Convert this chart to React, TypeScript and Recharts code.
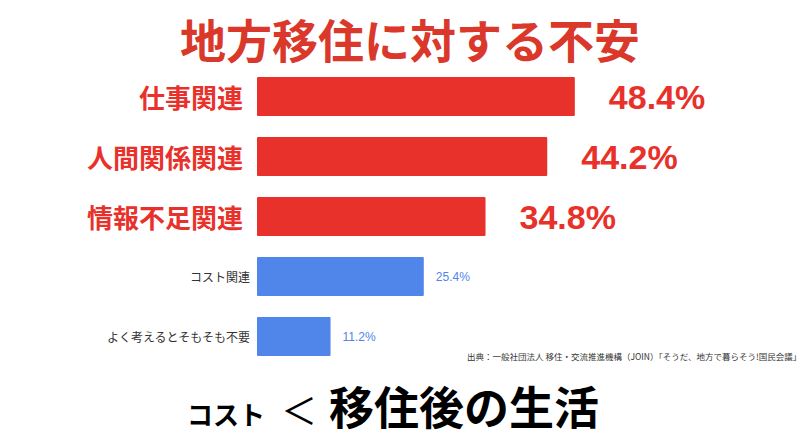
import { Bar, BarChart, Cell, LabelList, XAxis, YAxis } from "recharts";

const categories = [
  "仕事関連",
  "人間関係関連",
  "情報不足関連",
  "コスト関連",
  "よく考えるとそもそも不要",
];
const values = [48.4, 44.2, 34.8, 25.4, 11.2];
// first three are highlighted in red
const highlighted = [true, true, true, false, false];

const RED = "#e8312a";
const BLUE = "#5086ea";
const JP = "'Noto Sans CJK JP', 'Noto Sans', sans-serif";
const NUM = "'Liberation Sans', Arial, 'Noto Sans CJK JP', sans-serif";

const data = categories.map((name, i) => ({
  name,
  value: values[i],
  hi: highlighted[i],
}));

function CategoryTick(props: any) {
  const { x, y, payload, index } = props;
  const hi = highlighted[index];
  return (
    <text
      x={hi ? x - 6 : x + 1}
      y={y}
      textAnchor="end"
      dominantBaseline="central"
      fontFamily={JP}
      fontSize={hi ? 26 : 12}
      fontWeight={hi ? 700 : 400}
      fill={hi ? RED : "#333"}
    >
      {payload.value}
    </text>
  );
}

function ValueLabel(props: any) {
  const { x, y, width, height, value, index } = props;
  const hi = highlighted[index];
  return (
    <text
      x={x + width + (hi ? 34 : 12)}
      y={y + height / 2}
      dominantBaseline="central"
      fontFamily={NUM}
      fontSize={hi ? 34 : 12}
      fontWeight={hi ? 700 : 400}
      fill={hi ? RED : BLUE}
    >
      {value}%
    </text>
  );
}

export default function App() {
  return (
    <div
      style={{
        position: "fixed",
        left: 0,
        top: 0,
        width: 800,
        height: 438,
        background: "#fff",
        overflow: "hidden",
      }}
    >
      <div
        style={{
          position: "absolute",
          left: 0,
          top: 10,
          width: 820,
          textAlign: "center",
          fontFamily: JP,
          fontWeight: 700,
          fontSize: 46,
          lineHeight: "56px",
          color: "#d9382a",
        }}
      >
        地方移住に対する不安
      </div>

      <BarChart
        width={800}
        height={438}
        data={data}
        layout="vertical"
        margin={{ top: 66, right: 149, bottom: 72, left: 0 }}
        barSize={39}
        style={{ position: "absolute", left: 0, top: 0 }}
      >
        <XAxis type="number" domain={[0, 60]} hide />
        <YAxis
          type="category"
          dataKey="name"
          width={257}
          axisLine={false}
          tickLine={false}
          tick={<CategoryTick />}
          interval={0}
        />
        <Bar dataKey="value" isAnimationActive={false} radius={1}>
          {data.map((d) => (
            <Cell key={d.name} fill={d.hi ? RED : BLUE} />
          ))}
          <LabelList dataKey="value" content={<ValueLabel />} />
        </Bar>
      </BarChart>

      <div
        style={{
          position: "absolute",
          left: 467,
          top: 350,
          fontFamily: JP,
          fontSize: 8.5,
          color: "#333",
          whiteSpace: "nowrap",
        }}
      >
        出典：一般社団法人 移住・交流推進機構（JOIN）「そうだ、地方で暮らそう!国民会議」
      </div>

      <div
        style={{
          position: "absolute",
          left: 187,
          top: 380,
          fontFamily: JP,
          fontWeight: 700,
          color: "#000",
          whiteSpace: "nowrap",
          lineHeight: "52px",
        }}
      >
        <span style={{ fontSize: 26, marginRight: 16 }}>コスト</span>
        <span style={{ fontSize: 36, fontWeight: 400, marginRight: 12 }}>＜</span>
        <span style={{ fontSize: 45 }}>移住後の生活</span>
      </div>
    </div>
  );
}
